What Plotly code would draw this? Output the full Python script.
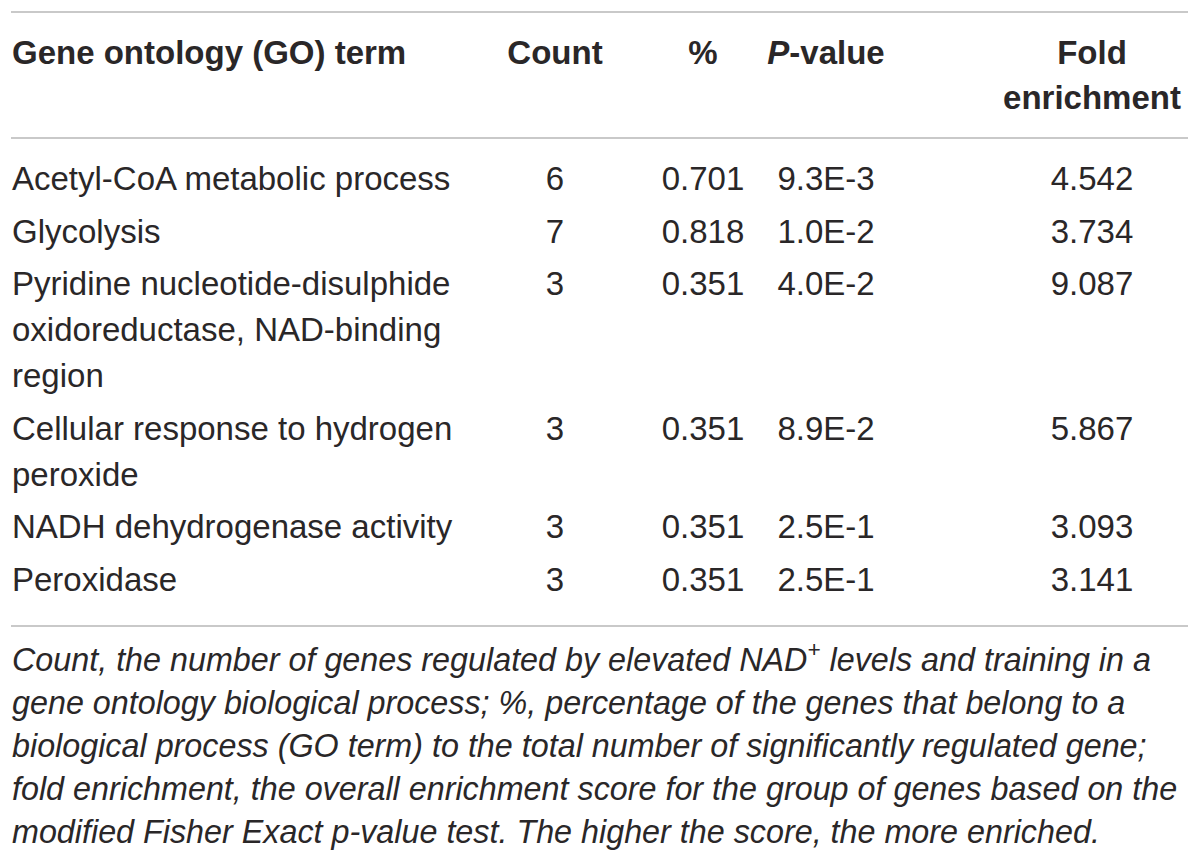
import plotly.graph_objects as go

# table content
headers = ["Gene ontology (GO) term", "Count", "%", "<i>P</i>-value", "Fold<br>enrichment"]
go_terms = [
    "Acetyl-CoA metabolic process",
    "Glycolysis",
    "Pyridine nucleotide-disulphide<br>oxidoreductase, NAD-binding<br>region",
    "Cellular response to hydrogen<br>peroxide",
    "NADH dehydrogenase activity",
    "Peroxidase",
]
counts = [6, 7, 3, 3, 3, 3]
percents = ["0.701", "0.818", "0.351", "0.351", "0.351", "0.351"]
p_values = ["9.3E-3", "1.0E-2", "4.0E-2", "8.9E-2", "2.5E-1", "2.5E-1"]
fold_enrichment = ["4.542", "3.734", "9.087", "5.867", "3.093", "3.141"]
footnote = [
    "Count, the number of genes regulated by elevated NAD<sup>+</sup> levels and training in a",
    "gene ontology biological process; %, percentage of the genes that belong to a",
    "biological process (GO term) to the total number of significantly regulated gene;",
    "fold enrichment, the overall enrichment score for the group of genes based on the",
    "modified Fisher Exact p-value test. The higher the score, the more enriched.",
]

# the page body has an 8px margin, so the axes start at 8 to keep pixel coords
OFF = 8
W, H = 1200, 862
TEXT = "#2a2728"
RULE = "#c9c9c9"
FONT = "Liberation Sans"
SIZE = 33
FOOT_SIZE = 32.3
LINE_H = 46
ROW_GAP = 6.5

col_x = [12, 555, 703, 826, 1092]
header_y = 56
body_top = 182

# row positions from how many lines each term takes
row_y = []
y = body_top
for t in go_terms:
    row_y.append(y)
    y += LINE_H * len(t.split("<br>")) + ROW_GAP

fig = go.Figure()

# header
for i, h in enumerate(headers):
    parts = h.split("<br>")
    fig.add_trace(go.Scatter(
        x=[col_x[i]] * len(parts),
        y=[header_y + k * 45 for k in range(len(parts))],
        text=["<b>%s</b>" % p for p in parts],
        mode="text",
        textposition="middle right" if i == 0 else "middle center",
        textfont=dict(family=FONT, size=SIZE, color=TEXT),
        hoverinfo="skip", cliponaxis=False,
    ))

# GO term column, one point per wrapped line
tx, ty, tt = [], [], []
for t, ry in zip(go_terms, row_y):
    for k, part in enumerate(t.split("<br>")):
        tx.append(col_x[0])
        ty.append(ry + k * LINE_H)
        tt.append(part)
fig.add_trace(go.Scatter(
    x=tx, y=ty, text=tt, mode="text", textposition="middle right",
    textfont=dict(family=FONT, size=SIZE, color=TEXT),
    hoverinfo="skip", cliponaxis=False,
))

# numeric columns
for i, col in enumerate([counts, percents, p_values, fold_enrichment], start=1):
    fig.add_trace(go.Scatter(
        x=[col_x[i]] * len(col), y=row_y, text=[str(v) for v in col],
        mode="text", textposition="middle center",
        textfont=dict(family=FONT, size=SIZE, color=TEXT),
        hoverinfo="skip", cliponaxis=False,
    ))

# footnote
foot_top = 663
fig.add_trace(go.Scatter(
    x=[col_x[0]] * len(footnote),
    y=[foot_top + k * 43 for k in range(len(footnote))],
    text=["<i>%s</i>" % s for s in footnote],
    mode="text", textposition="middle right",
    textfont=dict(family=FONT, size=FOOT_SIZE, color=TEXT),
    hoverinfo="skip", cliponaxis=False,
))

# horizontal rules
for ry in [12, 138, 626]:
    fig.add_shape(type="line", x0=11, x1=1188, y0=ry, y1=ry,
                  line=dict(color=RULE, width=2))

fig.update_layout(
    width=W - OFF, height=H - OFF,
    margin=dict(l=0, r=0, t=0, b=0),
    paper_bgcolor="white", plot_bgcolor="white",
    showlegend=False,
    xaxis=dict(range=[OFF, W], visible=False, fixedrange=True),
    yaxis=dict(range=[H, OFF], visible=False, fixedrange=True),
)

fig.write_html("out.html")
